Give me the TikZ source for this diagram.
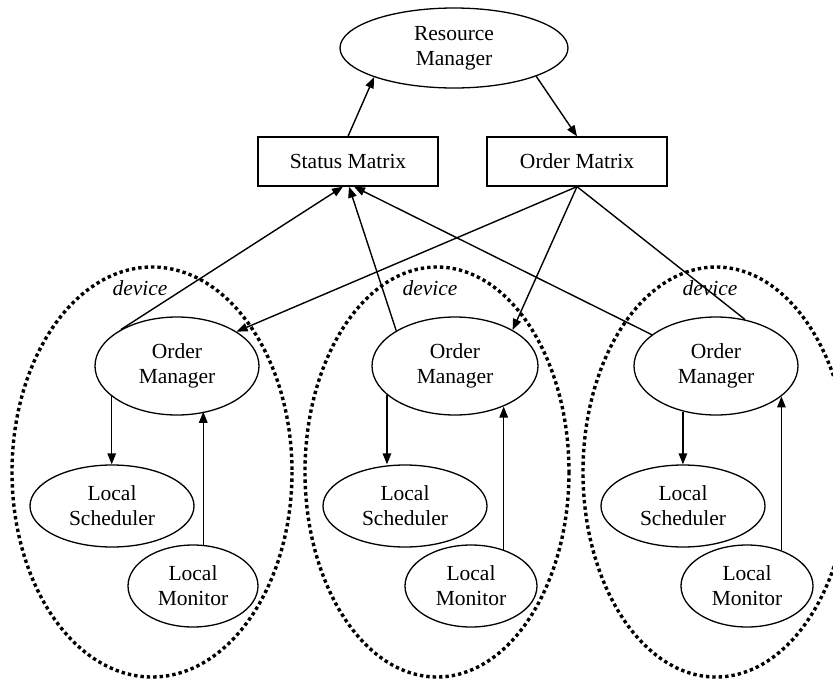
\documentclass[tikz,border=0pt]{standalone}
\usepackage{fontspec}
\setmainfont{Liberation Serif}
\usetikzlibrary{shapes.geometric,arrows.meta}
\begin{document}
\begin{tikzpicture}[x=1pt,y=-1pt,
  txt/.style={font=\fontsize{21.5}{25}\selectfont, align=center},
  oval/.style={txt, draw, line width=1.3pt, ellipse, inner sep=0pt},
  matrixbox/.style={txt, draw, line width=1.3pt, rectangle, minimum width=180pt, minimum height=49pt, inner sep=0pt},
  devicering/.style={draw, line width=3.4pt, dash pattern=on 3.4pt off 3pt},
  devlabel/.style={font=\fontsize{21.5}{25}\selectfont\itshape},
  link/.style={line width=1.4pt},
  flow/.style={line width=1.4pt, -{Triangle[length=11pt,width=8.5pt]}}
]
\useasboundingbox (0,0) rectangle (833,683);

% top level
\node[oval, minimum width=228pt, minimum height=80pt] (rm) at (454,48) {Resource\\Manager};
\node[matrixbox] (sm) at (348,161.5) {Status Matrix};
\node[matrixbox] (omat) at (577,161.5) {Order Matrix};

% device boundaries
\draw[devicering] (152,472) ellipse [x radius=140, y radius=205];
\draw[devicering] (437,472) ellipse [x radius=132, y radius=205];
\draw[devicering] (716,472) ellipse [x radius=133, y radius=205];
\node[devlabel] (dl) at (140,288) {device};
\node[devlabel] (dm) at (430,288) {device};
\node[devlabel] (dr) at (710,288) {device};

% left device
\node[oval, minimum width=164pt, minimum height=98pt] (omL) at (177,366) {Order\\Manager};
\node[oval, minimum width=164pt, minimum height=82pt] (lsL) at (112,506) {Local\\Scheduler};
\node[oval, minimum width=130pt, minimum height=82pt] (lmL) at (193,586) {Local\\Monitor};

% middle device
\node[oval, minimum width=166pt, minimum height=98pt] (omM) at (455,366) {Order\\Manager};
\node[oval, minimum width=164pt, minimum height=82pt] (lsM) at (405,506) {Local\\Scheduler};
\node[oval, minimum width=132pt, minimum height=82pt] (lmM) at (471,586) {Local\\Monitor};

% right device
\node[oval, minimum width=164pt, minimum height=98pt] (omR) at (716,366) {Order\\Manager};
\node[oval, minimum width=164pt, minimum height=82pt] (lsR) at (683,506) {Local\\Scheduler};
\node[oval, minimum width=132pt, minimum height=82pt] (lmR) at (747,586) {Local\\Monitor};

% resource manager links
\draw[flow] (sm.north) -- (rm.200);
\draw[flow] (rm.341) -- (omat.north);

% status reports up to the status matrix
\draw[flow] (omL.147) -- ([xshift=-5pt]sm.south);
\draw[flow] (omM.149) -- ([xshift=1pt]sm.south);
\draw[flow] (omR.154) -- ([xshift=6pt]sm.south);

% orders down from the order matrix
\draw[flow] (omat.south) -- (omL.30);
\draw[flow] (omat.south) -- (omM.32);
\draw[link] (omat.south) -- (omR.58);

% inside each device
\draw[flow] (omL.205) -- (omL.205 |- lsL.north);
\draw[flow] (lmL.76) -- (lmL.76 |- omL.305);
\draw[flow] (omM.203) -- (omM.203 |- lsM.north);
\draw[flow] (lmM.48) -- (lmM.48 |- omM.320);
\draw[flow] (omR.234) -- (omR.234 |- lsR.north);
\draw[flow] (lmR.46) -- (lmR.46 |- omR.335);
\end{tikzpicture}
\end{document}
